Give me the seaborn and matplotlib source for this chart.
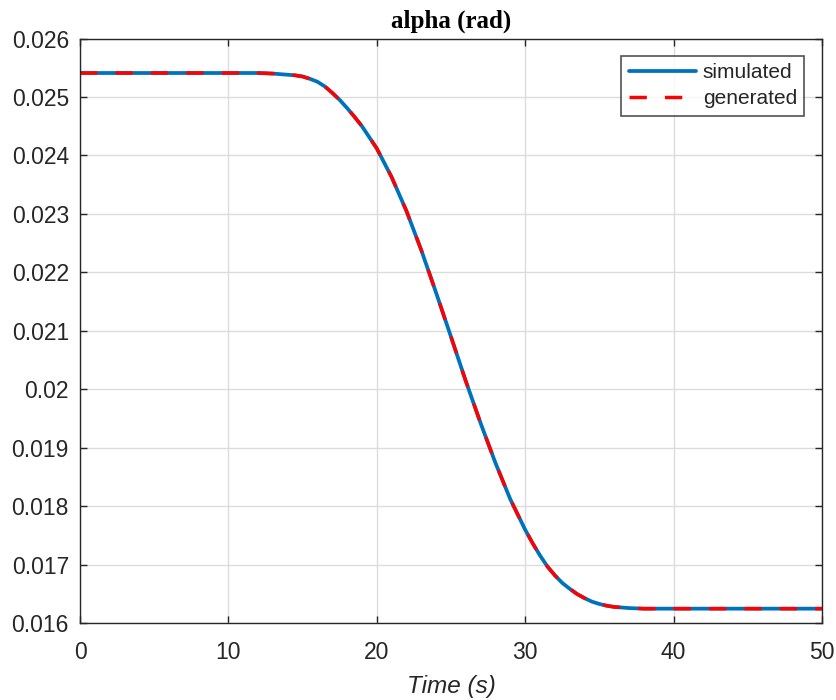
import numpy as np
import pandas as pd
import matplotlib
matplotlib.use("Agg")
import matplotlib.pyplot as plt
import seaborn as sns

# values
time_s = [0, 5, 10, 12, 13, 13.5, 14, 14.5, 15, 15.5, 16, 16.5, 17, 17.5, 18,
          18.5, 19, 20, 21, 22, 23, 24, 25, 26, 27, 28, 29, 30, 30.5, 31,
          31.5, 32, 32.5, 33, 33.5, 34, 34.5, 35, 35.5, 36, 37, 38, 40, 45, 50]
alpha_sim = [0.02541, 0.02541, 0.02541, 0.02541, 0.02540, 0.02539, 0.02538,
             0.02537, 0.02535, 0.02531, 0.02526, 0.02518, 0.02507, 0.02495,
             0.02481, 0.02466, 0.02450, 0.02412, 0.02363, 0.02305, 0.02238,
             0.02165, 0.02090, 0.02014, 0.01942, 0.01874, 0.01812, 0.01760,
             0.01737, 0.01716, 0.01697, 0.01682, 0.01669, 0.01659, 0.01650,
             0.01643, 0.01637, 0.01633, 0.01630, 0.01628, 0.01626, 0.01625,
             0.01625, 0.01625, 0.01625]
alpha_gen = list(alpha_sim)
y_labels = ["0.016", "0.017", "0.018", "0.019", "0.02", "0.021",
            "0.022", "0.023", "0.024", "0.025", "0.026"]

df = pd.DataFrame({"t": time_s, "simulated": alpha_sim, "generated": alpha_gen})

sns.set_theme(style="white")
plt.rcParams['font.family'] = ['Liberation Sans', 'DejaVu Sans']

fig = plt.figure(figsize=(8.37, 7.0), dpi=100)
ax = fig.add_axes([0.0956, 0.1096, 0.8864, 0.8354])

sns.lineplot(data=df, x="t", y="simulated", ax=ax, color="#0072BD",
             linewidth=2.7, label="simulated")
sns.lineplot(data=df, x="t", y="generated", ax=ax, color="#FF0000",
             linewidth=2.5, linestyle="--", label="generated")
ax.lines[-1].set_dashes((5.0, 5.2))

ax.set_xlim(0, 50)
ax.set_ylim(0.016, 0.026)
ax.set_xticks(np.arange(0, 51, 10))
ax.set_yticks(np.linspace(0.016, 0.026, 11))
ax.set_yticklabels(y_labels)

ax.grid(True, color="#dcdcdc", linewidth=1.0)
for sp in ax.spines.values():
    sp.set_color("#262626")
    sp.set_linewidth(1.0)
ax.tick_params(direction="in", length=5, width=1.0, color="#262626",
               labelsize=16.5, labelcolor="#262626", top=True, right=True,
               bottom=True, left=True)
ax.tick_params(axis="x", pad=13)
ax.tick_params(axis="y", pad=8)

ax.set_title("alpha (rad)", family="Liberation Serif", fontweight="bold",
             fontsize=18, color="#000000", pad=8)
ax.set_xlabel("Time (s)", fontstyle="italic", fontsize=17.5, color="#262626",
              labelpad=8)
ax.set_ylabel("")

leg = ax.legend(loc="upper right", fontsize=15, frameon=True, fancybox=False,
                edgecolor="#262626", handlelength=3.25, borderaxespad=0.85,
                borderpad=0.35, labelspacing=0.33, handletextpad=0.3)
leg.get_frame().set_linewidth(1.2)

fig.savefig("out.png", dpi=100)
